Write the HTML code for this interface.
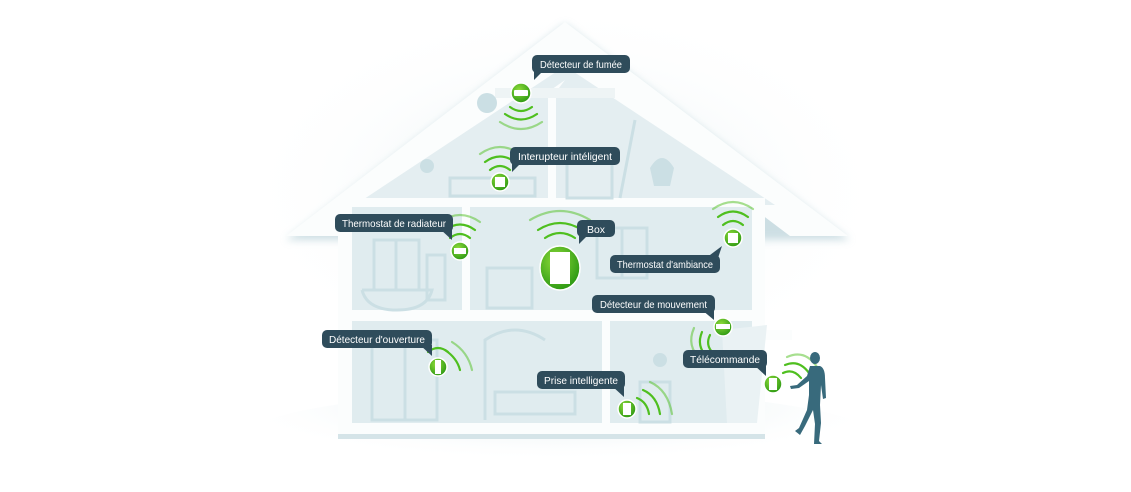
<!DOCTYPE html>
<html><head><meta charset="utf-8"><style>
html,body{margin:0;padding:0;background:#fff;}
svg{display:block}
text{font-family:"Liberation Sans",sans-serif;font-size:10.5px;fill:#fff;}
</style></head><body>
<svg width="1131" height="492" viewBox="0 0 1131 492" xmlns="http://www.w3.org/2000/svg">
<defs>
<radialGradient id="sh" cx="0.5" cy="0.5" r="0.5">
<stop offset="0" stop-color="#d6e6ea"/><stop offset="1" stop-color="#ffffff" stop-opacity="0"/></radialGradient>
<radialGradient id="gr" cx="0.5" cy="0.15" r="0.5">
<stop offset="0" stop-color="#d3e5e9"/><stop offset="1" stop-color="#ffffff" stop-opacity="0"/></radialGradient>
<radialGradient id="gc" cx="0.4" cy="0.35" r="0.65">
<stop offset="0" stop-color="#8fdc3a"/><stop offset="1" stop-color="#2f9a14"/></radialGradient>
<filter id="blur" x="-20%" y="-20%" width="140%" height="140%"><feGaussianBlur stdDeviation="4"/></filter>
</defs>
<rect width="1131" height="492" fill="#fff"/>
<ellipse cx="565" cy="190" rx="330" ry="190" fill="url(#sh)" opacity="0.6"/>
<ellipse cx="560" cy="445" rx="330" ry="55" fill="url(#gr)"/>
<!-- roof shadow -->
<polygon points="565,24 850,240 286,240" fill="#b9d2d9" filter="url(#blur)" opacity="0.7"/>
<!-- house body -->
<rect x="338" y="200" width="427" height="238" fill="#fbfdfd"/>
<rect x="338" y="434" width="427" height="5" fill="#d5e4e8"/>
<!-- roof -->
<polygon points="565,22 848,236 790,236 565,66 340,236 286,236" fill="#fbfdfd"/>
<!-- attic interior -->
<polygon points="565,66 775,205 355,205" fill="#e4eef1"/>
<polygon points="565,80 548,92 548,200 556,200 556,92" fill="#fbfdfd"/>
<rect x="495" y="88" width="120" height="10" fill="#eef4f5"/>
<rect x="338" y="198" width="427" height="9" fill="#fbfdfd"/>
<!-- floor 1 rooms -->
<rect x="352" y="207" width="110" height="103" fill="#e0ecef"/>
<rect x="470" y="207" width="282" height="103" fill="#e0ecef"/>
<!-- floor 2 rooms -->
<rect x="352" y="321" width="250" height="102" fill="#e0ecef"/>
<rect x="610" y="321" width="142" height="102" fill="#e0ecef"/>
<polygon points="765,330 792,330 792,340 765,340" fill="#fbfdfd"/>
<!-- furniture -->
<g fill="none" stroke="#cbdfe4" stroke-width="3">
<rect x="374" y="240" width="45" height="50"/><line x1="396" y1="240" x2="396" y2="290"/>
<rect x="427" y="255" width="18" height="45"/>
<path d="M362 290 h70 q-5 20 -35 20 q-30 0 -35 -20"/>
<rect x="487" y="268" width="45" height="40"/>
<rect x="597" y="228" width="50" height="50"/><line x1="622" y1="228" x2="622" y2="278"/>
<rect x="372" y="340" width="65" height="80"/><line x1="405" y1="340" x2="405" y2="420"/>
<path d="M485 420 v-80 q30 -20 60 0"/>
<rect x="495" y="392" width="80" height="22"/>
<rect x="640" y="382" width="30" height="40"/>
<rect x="567" y="162" width="45" height="36"/>
<rect x="450" y="178" width="85" height="18"/>
<line x1="620" y1="198" x2="635" y2="120"/>
</g>
<g fill="#cbdfe4">
<circle cx="487" cy="103" r="10"/><circle cx="427" cy="166" r="7"/><circle cx="660" cy="360" r="7"/>
<path d="M650 168 q12 -20 24 0 l-4 18 h-16z"/>
<path d="M722 330 l45 -5 l-10 98 h-30z" fill="#eaf2f4"/>
</g>
<!-- waves -->
<g fill="none" stroke="#4fbf1f" stroke-width="2.2" stroke-linecap="round">
<path d="M510 107 q11 8 22 0"/><path d="M505 114 q16 11 32 0"/><path d="M500 122 q21 14 42 0" opacity="0.5"/>
<path d="M490 170 q10 -8 20 0"/><path d="M485 162 q15 -11 30 0"/><path d="M480 154 q20 -14 40 0" opacity="0.5"/>
<path d="M450 238 q10 -8 20 0"/><path d="M445 230 q15 -11 30 0"/><path d="M440 222 q20 -14 40 0" opacity="0.5"/>
<path d="M545 238 q15 -10 30 0"/><path d="M538 230 q22 -14 44 0"/><path d="M530 220 q30 -18 60 0" opacity="0.5"/>
<path d="M723 225 q10 -8 20 0"/><path d="M718 217 q15 -11 30 0"/><path d="M713 209 q20 -14 40 0" opacity="0.5"/>
<path d="M710 335 q-5 10 3 18"/><path d="M702 332 q-6 14 5 25"/><path d="M694 328 q-8 18 7 32" opacity="0.5"/>
<path d="M428 352 q10 -8 20 0"/><path d="M445 350 q12 8 15 20"/><path d="M452 342 q16 10 20 28" opacity="0.5"/>
<path d="M637 398 q10 4 12 16"/><path d="M643 390 q14 6 17 24"/><path d="M650 382 q18 8 22 32" opacity="0.5"/>
<path d="M783 373 q10 -5 18 5"/><path d="M785 365 q14 -6 24 8"/><path d="M787 357 q18 -8 30 10" opacity="0.5"/>
</g>
<!-- devices -->
<g stroke="#fff" stroke-width="1.5">
<circle cx="521" cy="93" r="10" fill="url(#gc)"/>
<circle cx="500" cy="182" r="9" fill="url(#gc)"/>
<circle cx="460" cy="251" r="9" fill="url(#gc)"/>
<ellipse cx="560" cy="268" rx="20" ry="22" fill="url(#gc)"/>
<circle cx="733" cy="238" r="9" fill="url(#gc)"/>
<circle cx="723" cy="327" r="9" fill="url(#gc)"/>
<circle cx="438" cy="367" r="9" fill="url(#gc)"/>
<circle cx="627" cy="409" r="9" fill="url(#gc)"/>
<circle cx="773" cy="384" r="9" fill="url(#gc)"/>
</g>
<g fill="#fff">
<rect x="514" y="90" width="14" height="6" rx="1"/>
<rect x="495" y="177" width="10" height="10"/>
<rect x="454" y="248" width="12" height="6"/>
<rect x="550" y="252" width="20" height="32"/>
<rect x="728" y="233" width="10" height="10"/>
<rect x="716" y="324" width="14" height="5"/>
<rect x="435" y="360" width="6" height="14"/>
<rect x="623" y="403" width="8" height="12"/>
<rect x="769" y="378" width="8" height="12"/>
</g>
<!-- labels -->
<g fill="#2f4c5b">
<rect x="532" y="55" width="98" height="18" rx="5"/><polygon points="534,70 544,70 534,80"/>
<rect x="510" y="147" width="110" height="18" rx="5"/><polygon points="512,162 522,162 512,172"/>
<rect x="335" y="214" width="118" height="18" rx="5"/><polygon points="440,229 452,229 452,240"/>
<rect x="577" y="220" width="38" height="17" rx="5"/><polygon points="579,234 589,234 579,244"/>
<rect x="610" y="255" width="110" height="18" rx="5"/><polygon points="706,258 718,258 722,246"/>
<rect x="592" y="295" width="123" height="18" rx="5"/><polygon points="702,310 714,310 714,320"/>
<rect x="322" y="330" width="110" height="18" rx="5"/><polygon points="420,345 432,345 432,356"/>
<rect x="683" y="350" width="84" height="18" rx="5"/><polygon points="754,365 766,365 766,376"/>
<rect x="537" y="371" width="88" height="18" rx="5"/><polygon points="612,386 624,386 624,397"/>
</g>
<text x="540" y="68" textLength="82" lengthAdjust="spacingAndGlyphs">Détecteur de fumée</text>
<text x="518" y="160" textLength="94" lengthAdjust="spacingAndGlyphs">Interupteur intéligent</text>
<text x="342" y="227" textLength="104" lengthAdjust="spacingAndGlyphs">Thermostat de radiateur</text>
<text x="587" y="233" textLength="18" lengthAdjust="spacingAndGlyphs">Box</text>
<text x="617" y="268" textLength="96" lengthAdjust="spacingAndGlyphs">Thermostat d'ambiance</text>
<text x="600" y="308" textLength="107" lengthAdjust="spacingAndGlyphs">Détecteur de mouvement</text>
<text x="329" y="343" textLength="96" lengthAdjust="spacingAndGlyphs">Détecteur d'ouverture</text>
<text x="690" y="363" textLength="70" lengthAdjust="spacingAndGlyphs">Télécommande</text>
<text x="544" y="384" textLength="74" lengthAdjust="spacingAndGlyphs">Prise intelligente</text>
<!-- person -->
<g fill="#386a7c">
<ellipse cx="815" cy="358" rx="5" ry="6"/>
<path d="M810 366 h10 q5 2 5 12 l1 20 l-3 1 l-2 -14 l-1 20 l1 18 l-2 18 l3 3 h-8 l1 -20 l-2 -14 l-8 16 l-5 9 l-5 -4 l4 -3 l8 -18 l2 -15 l0 -14 l-10 7 l-8 1 l-1 -3 l7 -1 l10 -9 z"/>
</g>
</svg>
</body></html>
